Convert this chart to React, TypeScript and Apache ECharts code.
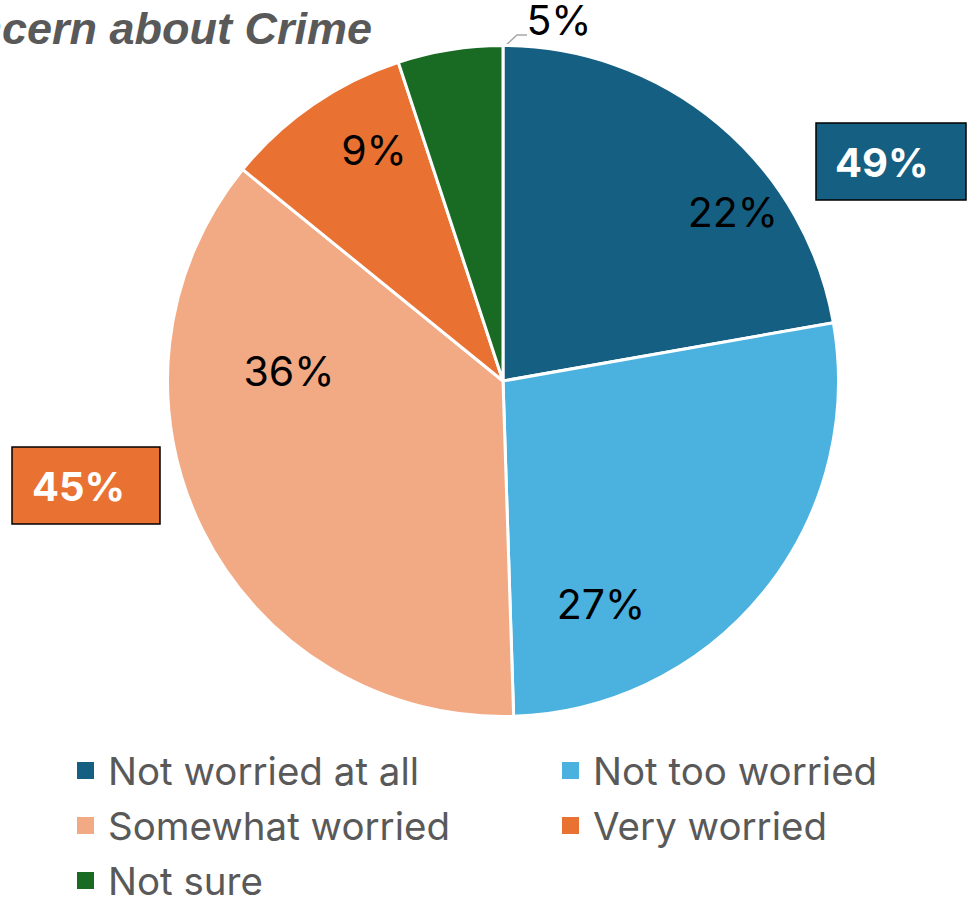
import React, { useEffect, useRef } from "react";
import * as echarts from "echarts";

const categories = ["Not worried at all", "Not too worried", "Somewhat worried", "Very worried", "Not sure"];
const values = [22, 27, 36, 9, 5];
const colors = ["#156082", "#4BB1DF", "#F2AA84", "#E97132", "#196B24"];
const titleText = "Concern about Crime";
// label positions (style)
const labelPos: [number, number][] = [[733, 212], [601, 604], [289, 371], [374, 150], [559, 20]];
// legend slot (style): [left, top] per category
const legendSlots: [number, number][] = [[75, 751], [560, 751], [75, 806], [560, 806], [75, 861]];

export default function App() {
  const ref = useRef<HTMLDivElement>(null);
  useEffect(() => {
    document.body.style.margin = "0";
    const chart = echarts.init(ref.current!, null, { renderer: "svg" });
    const notWorried = values[0] + values[1];
    const worried = values[2] + values[3];
    const font = "Inter, 'Noto Sans', sans-serif";
    const legendText = { fontSize: 38.5, lineHeight: 36, color: "#595959", fontFamily: font, padding: [0, 0, 0, 8] };
    chart.setOption({
      animation: false,
      backgroundColor: "#ffffff",
      color: colors,
      legend: categories.map((name, i) => ({
        orient: "horizontal",
        left: legendSlots[i][0],
        top: legendSlots[i][1],
        padding: 0,
        icon: "rect",
        itemWidth: 19,
        itemHeight: 19,
        selectedMode: false,
        data: [name],
        textStyle: legendText,
      })),
      series: [
        {
          type: "pie",
          center: [503, 381],
          radius: 335.5,
          startAngle: 90,
          clockwise: true,
          itemStyle: { borderColor: "#ffffff", borderWidth: 3 },
          label: {
            show: true,
            position: "inside",
            formatter: "{c}%",
            fontSize: 41,
            color: "#000000",
            fontFamily: font,
          },
          labelLine: { show: false },
          labelLayout: (p: any) => {
            const i = p.dataIndex;
            const res: any = { x: labelPos[i][0], y: labelPos[i][1], align: "center", verticalAlign: "middle" };
            if (i === 4) {
              res.labelLinePoints = [[504, 47], [517, 35], [527, 35]];
            }
            return res;
          },
          data: categories.map((name, i) => {
            const item: any = { name, value: values[i] };
            if (i === 4) {
              item.label = { position: "outside" };
              item.labelLine = { show: true, lineStyle: { color: "#A6A6A6", width: 1.5 } };
            }
            return item;
          }),
        },
      ],
      graphic: [
        {
          type: "text",
          x: 372,
          y: 51,
          style: {
            text: titleText,
            textAlign: "right",
            textVerticalAlign: "bottom",
            fontSize: 45,
            fontWeight: "bold",
            fontStyle: "italic",
            fontFamily: "'Liberation Sans', Arial, sans-serif",
            fill: "#595959",
          },
        },
        {
          type: "group",
          x: 816,
          y: 123,
          children: [
            { type: "rect", shape: { x: 0, y: 0, width: 150, height: 77 }, style: { fill: colors[0], stroke: "#000000", lineWidth: 1.5 } },
            {
              type: "text",
              x: 19,
              y: 39,
              style: { text: `${notWorried}%`, textVerticalAlign: "middle", fontSize: 40, fontWeight: "bold", fontFamily: font, fill: "#ffffff" },
            },
          ],
        },
        {
          type: "group",
          x: 12,
          y: 447,
          children: [
            { type: "rect", shape: { x: 0, y: 0, width: 148, height: 77 }, style: { fill: colors[3], stroke: "#000000", lineWidth: 1.5 } },
            {
              type: "text",
              x: 20,
              y: 39,
              style: { text: `${worried}%`, textVerticalAlign: "middle", fontSize: 40, fontWeight: "bold", fontFamily: font, fill: "#ffffff" },
            },
          ],
        },
      ],
    });
    return () => chart.dispose();
  }, []);
  return <div ref={ref} style={{ width: 974, height: 899 }} />;
}
